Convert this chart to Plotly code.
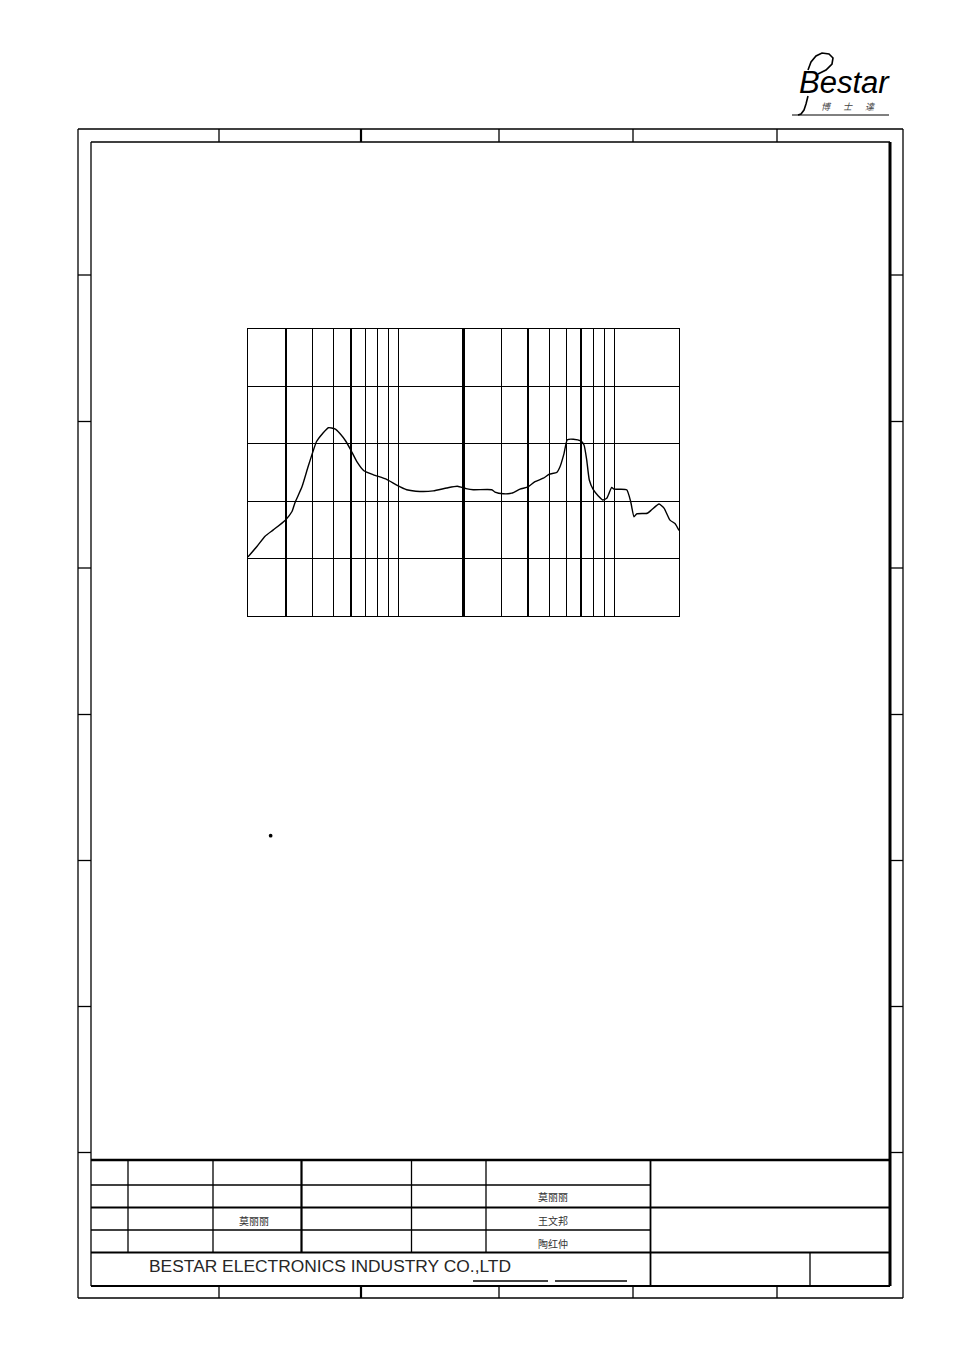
import plotly.graph_objects as go

W, H = 954, 1351

# ---- data ----
freq_hz = [100, 110, 120, 131, 149, 160, 165, 178, 190, 200, 208, 222, 236, 253, 267, 285,
           300, 320, 345, 382, 440, 490, 545, 628, 724, 836, 936, 1027, 1110, 1352, 1400,
           1530, 1674, 1829, 1993, 2147, 2346, 2501, 2707, 2804, 2927, 3032, 3232, 3499,
           3624, 3730, 3835, 4002, 4222, 4425, 4618, 4749, 4872, 4993, 5719, 5969, 6183,
           6364, 7127, 7469, 8077, 8520, 9083, 9581, 10000]
spl_db = [60.3, 62.1, 63.9, 65.0, 66.7, 68.2, 69.7, 72.5, 76.0, 78.6, 80.4, 81.8, 82.8, 82.6,
          81.8, 80.4, 78.9, 76.9, 75.3, 74.6, 73.8, 72.8, 72.0, 71.7, 71.8, 72.3, 72.6, 72.2,
          72.0, 72.0, 71.6, 71.3, 71.4, 72.1, 72.5, 73.4, 74.0, 74.7, 75.0, 76.0, 78.3, 80.7,
          80.8, 80.5, 79.8, 77.2, 73.7, 72.0, 70.9, 70.2, 70.5, 71.5, 72.4, 72.1, 72.0, 69.9,
          67.3, 67.8, 67.9, 68.5, 69.5, 68.8, 66.7, 66.1, 64.9]

major_grid_hz = [300, 1000, 2000, 3500]
minor_grid_hz = [150, 200, 250, 350, 400, 450, 500, 1500, 2500, 3000, 4000, 4500, 5000]
y_grid_db = [60, 70, 80, 90]
x_range_log = [2, 4]
y_range_db = [50, 100]

company = "BESTAR ELECTRONICS INDUSTRY CO.,LTD"
names_left = ["莫丽丽"]
names_right = ["莫丽丽", "王文邦", "陶红仲"]
logo_text = "Bestar"
logo_cn = ["博", "士", "達"]

# ---- helpers for the drawing frame (page pixel -> paper) ----
def px(x):
    return x / W

def py(y):
    return 1 - y / H

shapes = []

def line(x0, y0, x1, y1, w=1.3):
    shapes.append(dict(type="line", xref="paper", yref="paper",
                       x0=px(x0), y0=py(y0), x1=px(x1), y1=py(y1),
                       line=dict(color="black", width=w)))

# outer frame
line(78, 129, 903, 129)
line(78, 1298, 903, 1298)
line(78, 129, 78, 1298)
line(903, 129, 903, 1298)
# inner frame
line(91, 142, 890, 142)
line(91, 142, 91, 1286)
line(890, 142, 890, 1286, 3)
line(91, 1286, 890, 1286, 2)
# zone ticks top/bottom
for xx, ww in [(219, 1.3), (361, 2.2), (499, 1.3), (633, 1.3), (777, 1.3)]:
    line(xx, 129, xx, 142, ww)
    line(xx, 1286, xx, 1298, ww)
# zone ticks left/right
for yy in [275, 421.5, 568, 714.5, 860.5, 1006.5, 1152.5]:
    line(78, yy, 91, yy)
    line(890, yy, 903, yy)

# title block
line(91, 1160, 890, 1160, 2.5)
line(91, 1185, 650, 1185)
line(91, 1207.5, 890, 1207.5, 2.2)
line(91, 1230, 650, 1230)
line(91, 1252.5, 890, 1252.5, 1.8)
for xx, ww in [(128, 1.3), (213, 1.3), (301.5, 2.2), (411.5, 1.3), (486, 1.3)]:
    line(xx, 1160, xx, 1252.5, ww)
line(650.5, 1160, 650.5, 1286, 1.8)
line(810, 1252.5, 810, 1286)
line(473, 1281, 548, 1281)
line(555, 1281, 627, 1281)

# logo underline
line(792, 115, 889, 115, 1)

# logo swirl (approximate)
def path_from(points):
    s = "M {} {}".format(px(points[0][0]), py(points[0][1]))
    for (x, y) in points[1:]:
        s += " L {} {}".format(px(x), py(y))
    return s

swirl = [(808, 70), (811, 62), (816, 56), (822, 53), (829, 54), (833, 58), (832, 64),
         (826, 70), (818, 74)]
tail = [(808, 96), (806, 104), (804, 110), (801, 114), (798, 115)]
for pts in (swirl, tail):
    shapes.append(dict(type="path", xref="paper", yref="paper", path=path_from(pts),
                       line=dict(color="black", width=1.6)))

# stray dot
shapes.append(dict(type="circle", xref="paper", yref="paper",
                   x0=px(268.8), y0=py(837.5), x1=px(272.5), y1=py(833.8),
                   fillcolor="black", line=dict(color="black", width=0)))

# ---- annotations ----
ann = []

def text(x, y, s, size, color="#222", family="Liberation Sans", xanchor="center", style="normal"):
    ann.append(dict(x=px(x), y=py(y), xref="paper", yref="paper", text=s, showarrow=False,
                    xanchor=xanchor, yanchor="middle",
                    font=dict(size=size, color=color, family=family, style=style)))

text(147, 1266, company, 17.4, "#262626", "Liberation Sans", xanchor="left")
text(254, 1220, names_left[0], 10, "#333", "Noto Sans CJK SC")
for yy, nm in zip([1196, 1220, 1243], names_right):
    text(553, yy, nm, 10, "#333", "Noto Sans CJK SC")
text(797, 82, logo_text, 31, "black", "Liberation Sans", xanchor="left", style="italic")
for xx, ch in zip([826, 848, 870], logo_cn):
    text(xx, 106.5, ch, 9, "#444", "Noto Sans CJK SC", style="italic")

# ---- figure ----
fig = go.Figure()
fig.add_trace(go.Scatter(x=freq_hz, y=spl_db, mode="lines",
                         line=dict(color="black", width=1.4, shape="spline", smoothing=0.5),
                         showlegend=False, hoverinfo="skip"))

fig.update_layout(
    width=W, height=H, autosize=False,
    margin=dict(l=0, r=0, t=0, b=0, pad=0),
    paper_bgcolor="white", plot_bgcolor="white",
    shapes=shapes, annotations=ann, showlegend=False,
    xaxis=dict(type="log", range=x_range_log, domain=[px(248), px(679)],
               tickmode="array", tickvals=major_grid_hz, showticklabels=False, ticks="",
               showgrid=True, gridcolor="black", gridwidth=2.2, zeroline=False,
               showline=True, mirror=True, linecolor="black", linewidth=1.3,
               minor=dict(tickmode="array", tickvals=minor_grid_hz, showgrid=True,
                          gridcolor="black", gridwidth=1.2, ticks="")),
    yaxis=dict(range=y_range_db, domain=[py(616), py(329)],
               tickmode="array", tickvals=y_grid_db, showticklabels=False, ticks="",
               showgrid=True, gridcolor="black", gridwidth=1.3, zeroline=False,
               showline=True, mirror=True, linecolor="black", linewidth=1.3),
)

fig.write_html("out.html", config={"displayModeBar": False, "staticPlot": True},
               post_script="document.body.style.margin='0';document.body.style.overflow='hidden';")
